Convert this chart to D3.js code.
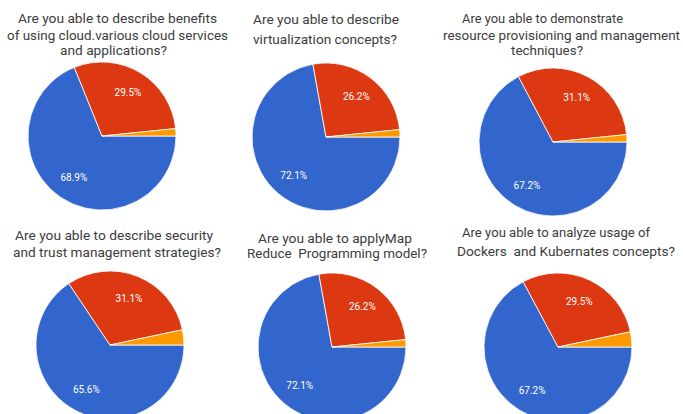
<!DOCTYPE html>
<html>
<head>
<meta charset="utf-8">
<script src="https://cdn.jsdelivr.net/npm/d3@7"></script>
<style>
  html, body { margin: 0; padding: 0; background: #ffffff; }
  svg { display: block; }
</style>
</head>
<body>
<svg id="chart" width="683" height="414"></svg>
<script>
// ---- data ----
const categories = ["Yes", "No", "Maybe"];
const colors = ["#3366cc", "#dc3912", "#ff9900"];

const titles = [
  ["Are you able to describe benefits", "of using cloud.various cloud services", "and applications?"],
  ["Are you able to describe", "virtualization concepts?"],
  ["Are you able to demonstrate", "resource provisioning and management", "techniques?"],
  ["Are you able to describe security", "and trust management strategies?"],
  ["Are you able to applyMap", "Reduce  Programming model?"],
  ["Are you able to analyze usage of", "Dockers  and Kubernates concepts?"]
];

const q1Values = [68.9, 29.5, 1.6];
const q2Values = [72.1, 26.2, 1.6];
const q3Values = [67.2, 31.1, 1.6];
const q4Values = [65.6, 31.1, 3.3];
const q5Values = [72.1, 26.2, 1.6];
const q6Values = [67.2, 29.5, 3.3];
const seriesValues = [q1Values, q2Values, q3Values, q4Values, q5Values, q6Values];

// ---- layout (positions only) ----
const pieCenters = [[102, 136], [326, 137], [553, 142], [110, 345], [332, 347], [558, 347]];
const radius = 74;
// per-line [xStart, baseline, width]
const titleLayout = [
  [[18, 23, 199], [7, 40, 221], [60, 55, 107]],
  [[253, 24, 146], [253, 44, 144]],
  [[462, 23, 161], [443, 40, 237], [511, 55, 72]],
  [[15, 240, 198], [13, 257, 208]],
  [[258, 243, 154], [247, 258, 180]],
  [[462, 237, 188], [457, 256, 218]]
];

const svg = d3.select("#chart");

const pie = d3.pie()
  .sort(null)
  .value(d => d)
  .startAngle(Math.PI / 2)
  .endAngle(Math.PI / 2 + 2 * Math.PI);

const arc = d3.arc().innerRadius(0).outerRadius(radius);
const labelArc = d3.arc().innerRadius(radius * 0.68).outerRadius(radius * 0.68);
const color = d3.scaleOrdinal().domain(categories).range(colors);

seriesValues.forEach((vals, i) => {
  const [cx, cy] = pieCenters[i];
  const g = svg.append("g").attr("transform", `translate(${cx},${cy})`);
  const arcs = pie(vals);
  g.selectAll("path")
    .data(arcs)
    .join("path")
    .attr("d", arc)
    .attr("fill", (d, j) => color(categories[j]))
    .attr("stroke", "#ffffff")
    .attr("stroke-width", 0.8);
  g.selectAll("text")
    .data(arcs.filter(d => d.data > 5))
    .join("text")
    .attr("transform", d => `translate(${labelArc.centroid(d)})`)
    .attr("text-anchor", "middle")
    .attr("dy", "0.35em")
    .attr("fill", "#ffffff")
    .attr("font-family", "Roboto, Arial, sans-serif")
    .attr("font-size", 10)
    .text(d => d.data.toFixed(1) + "%");
});

titles.forEach((lines, i) => {
  lines.forEach((line, k) => {
    const [x, y, w] = titleLayout[i][k];
    svg.append("text")
      .attr("x", x)
      .attr("y", y)
      .attr("font-family", "Roboto, Arial, sans-serif")
      .attr("font-size", 13)
      .attr("fill", "#3c3c3c")
      .attr("textLength", w)
      .attr("lengthAdjust", "spacingAndGlyphs")
      .style("white-space", "pre")
      .text(line);
  });
});
</script>
</body>
</html>
